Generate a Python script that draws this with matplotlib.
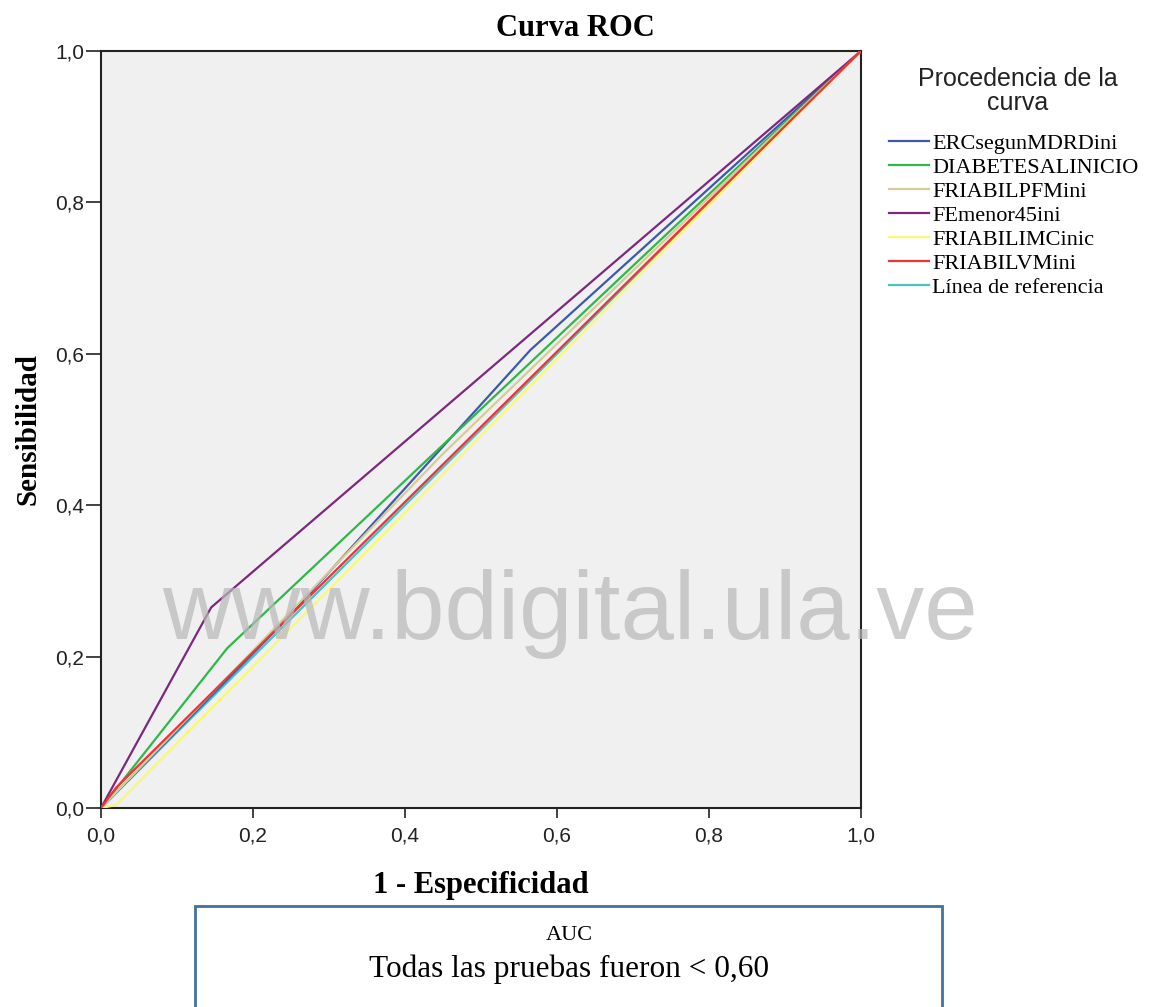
import matplotlib
matplotlib.use("Agg")
import matplotlib.pyplot as plt
from matplotlib.patches import Rectangle

# curvas ROC (1 - especificidad, sensibilidad)
erc_x = [0.0, 0.24, 0.565, 1.0]
erc_y = [0.0, 0.245, 0.605, 1.0]
diab_x = [0.0, 0.166, 1.0]
diab_y = [0.0, 0.211, 1.0]
pfm_x = [0.0, 0.45, 1.0]
pfm_y = [0.0, 0.468, 1.0]
fe45_x = [0.0, 0.145, 1.0]
fe45_y = [0.0, 0.265, 1.0]
imc_x = [0.0, 0.02, 1.0]
imc_y = [0.0, 0.004, 1.0]
vm_x = [0.0, 0.02, 1.0]
vm_y = [0.0, 0.027, 1.0]
ref_x = [0.0, 1.0]
ref_y = [0.0, 1.0]

series = [
    ("ERCsegunMDRDini", erc_x, erc_y, "#3E58AC"),
    ("DIABETESALINICIO", diab_x, diab_y, "#2EB848"),
    ("FRIABILPFMini", pfm_x, pfm_y, "#D3CE97"),
    ("FEmenor45ini", fe45_x, fe45_y, "#7C287D"),
    ("FRIABILIMCinic", imc_x, imc_y, "#FBF873"),
    ("FRIABILVMini", vm_x, vm_y, "#EF3338"),
    ("Línea de referencia", ref_x, ref_y, "#48C2C5"),
]
ticks = [0.0, 0.2, 0.4, 0.6, 0.8, 1.0]
tick_labels = ["0,0", "0,2", "0,4", "0,6", "0,8", "1,0"]

serif = "Liberation Serif"
sans = "Liberation Sans"
W, H = 1151, 1007

fig = plt.figure(figsize=(W / 100, H / 100), dpi=100)
ax = fig.add_axes([101 / W, 1 - 808 / H, 760 / W, 757 / H])
ax.set_facecolor("#f0f0f0")

# la linea de referencia se dibuja debajo del resto
for name, xs, ys, col in series:
    z = 2 if name.startswith("L") else 3
    ax.plot(xs, ys, color=col, lw=1.6, label=name, zorder=z)

ax.set_xlim(0, 1)
ax.set_ylim(0, 1)
ax.set_xticks(ticks)
ax.set_xticklabels(tick_labels, family=sans, fontsize=15, color="#222222")
ax.set_yticks(ticks)
ax.set_yticklabels(tick_labels, family=sans, fontsize=15, color="#222222")
ax.tick_params(axis="x", direction="out", length=7, width=1.2, color="#222222", pad=6)
ax.tick_params(axis="y", direction="out", length=11, width=1.2, color="#222222", pad=1)
for s in ax.spines.values():
    s.set_color("#222222")
    s.set_linewidth(1.5)

fig.text(0.5, 1 - 28 / H, "Curva ROC", family=serif, fontweight="bold",
         fontsize=22, ha="center", va="center")
ax.set_xlabel("1 - Especificidad", family=serif, fontweight="bold", fontsize=22, labelpad=19)
ax.set_ylabel("Sensibilidad", family=serif, fontweight="bold", fontsize=21, labelpad=10)

# titulo de la leyenda aparte para controlar su posicion
fig.text(1018 / W, 1 - 91 / H, "Procedencia de la\ncurva", family=sans, fontsize=18,
         color="#222222", ha="center", va="center", multialignment="center",
         linespacing=1.05)
leg = ax.legend(loc="upper left", bbox_to_anchor=(889 / W, 1 - 133 / H),
                bbox_transform=fig.transFigure, frameon=False,
                prop={"family": serif, "size": 16}, handlelength=1.8,
                handletextpad=0.15, labelspacing=0.16, borderpad=0, borderaxespad=0)

# marca de agua
fig.text(0.495, 0.39, "www.bdigital.ula.ve", family=sans, fontsize=69,
         color="#b8b8b8", alpha=0.7, ha="center", va="center", zorder=10)

# recuadro AUC
box = Rectangle((195 / W, -0.05), (942 - 195) / W, (H - 906) / H + 0.05,
                transform=fig.transFigure, fill=False, edgecolor="#41719C", lw=2)
fig.patches.append(box)
fig.text(0.4944, 1 - 936 / H, "AUC", family=serif, fontsize=16, ha="center", va="center")
fig.text(0.4944, 1 - 969 / H, "Todas las pruebas fueron < 0,60", family=serif,
         fontsize=22.5, ha="center", va="center")

fig.savefig("out.png", dpi=100, facecolor="white")
